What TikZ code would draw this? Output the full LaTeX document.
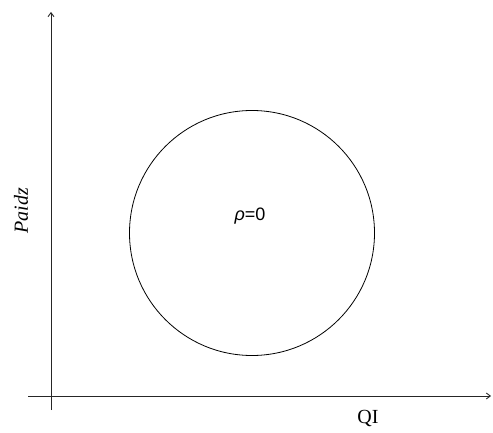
\documentclass[tikz,border=0pt]{standalone}
\usepackage{fontspec}
\setmainfont{Liberation Serif}
\setsansfont{Liberation Sans}
\usetikzlibrary{arrows.meta,positioning}

\begin{document}
\begin{tikzpicture}[
        x=1pt,y=-1pt,
        axis/.style={-{Straight Barb[length=4pt,width=6pt]},line width=0.9pt,black!85},
        lbl/.style={font=\fontsize{20}{24}\selectfont,inner sep=0pt}
      ]
        \useasboundingbox (0,0) rectangle (493,433);
        \coordinate (xl) at (28,396);
        \coordinate (xr) at (491,396);
        \coordinate (yb) at (51,410);
        \coordinate (yt) at (51,12);
        \draw[axis] (xl)--(xr);
        \draw[axis] (yb)--(yt);
        \node[draw,circle,line width=0.8pt,minimum size=245pt,inner sep=0pt] (zone) at (252,233) {};
        \node[lbl,font=\sffamily\fontsize{18}{22}\selectfont] (rho) at (250,216) {\textit{ρ}=0};
        \node[lbl] (qi) at (368,418) {QI};
        \node[lbl,rotate=90] (paidz) at (21,211) {\textit{Paidz}};
      \end{tikzpicture}
\end{document}
